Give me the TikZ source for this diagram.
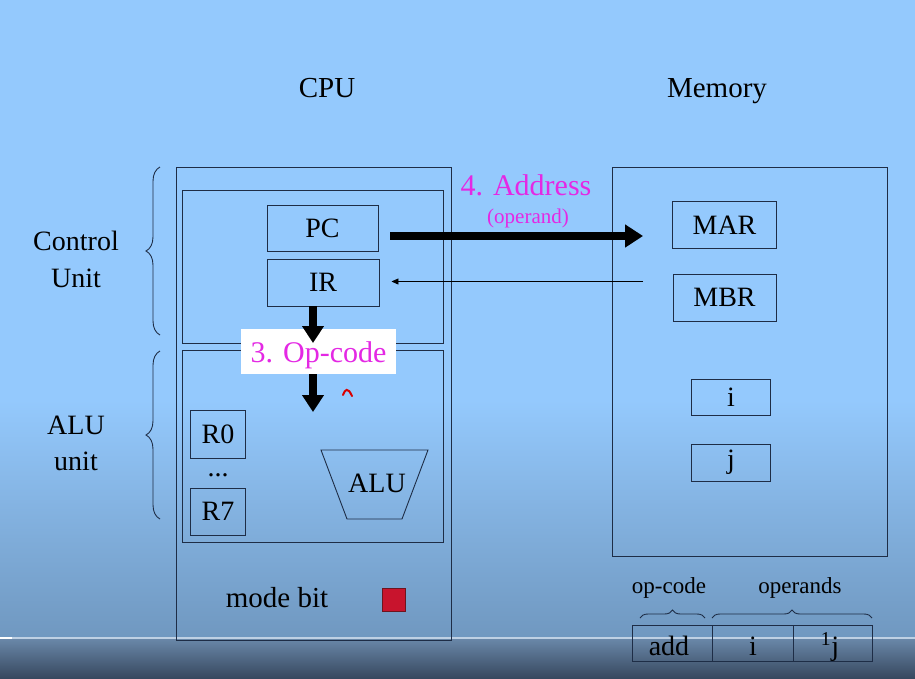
\documentclass[tikz,border=0pt]{standalone}
\usepackage{fontspec}
\setmainfont{Liberation Serif}
\usetikzlibrary{arrows.meta,decorations.pathreplacing}
\definecolor{bgtop}{RGB}{148,201,253}
\definecolor{bgmid}{RGB}{112,152,192}
\definecolor{barA}{RGB}{105,135,168}
\definecolor{barB}{RGB}{55,72,95}
\definecolor{barline}{RGB}{190,208,228}
\definecolor{edge}{RGB}{30,45,70}
\definecolor{mag}{RGB}{228,40,228}
\definecolor{modered}{RGB}{200,20,45}
\begin{document}
\begin{tikzpicture}[x=1pt,y=-1pt,
  box/.style={draw=edge,line width=0.9pt,inner sep=0pt,anchor=center},
  reg/.style={box,font=\fontsize{28}{30}\selectfont},
  frame/.style={draw=edge,line width=0.9pt},
  lbl/.style={font=\fontsize{29}{31}\selectfont,inner sep=0pt,anchor=base},
  side/.style={font=\fontsize{28}{30}\selectfont,inner sep=0pt,anchor=base},
  small/.style={font=\fontsize{23}{25}\selectfont,inner sep=0pt,anchor=base},
  bigarrow/.style={line width=7.5pt,-{Triangle[length=18pt,width=22pt]}},
  thinarrow/.style={line width=0.9pt,-{Triangle[length=7pt,width=6pt]}},
  bracestyle/.style={draw=edge,line width=0.9pt,decorate}
]
% background
\useasboundingbox (0,0) rectangle (915,678);
\fill[bgtop] (0,0) rectangle (915,400);
\shade[top color=bgtop,bottom color=bgmid] (0,400) rectangle (915,637);
\fill[barline] (0,637) rectangle (915,639);
\fill[white] (0,637) rectangle (12,639);
\shade[top color=barA,bottom color=barB] (0,639) rectangle (915,678);

% titles
\node[lbl] (cpu) at (327,97) {CPU};
\node[lbl] (mem) at (717,97) {Memory};

% CPU frames
\node[box,minimum width=275pt,minimum height=473pt] (cpubox) at (313.5,403.5) {};
\node[box,minimum width=261pt,minimum height=153pt] (cu) at (312.5,266.5) {};
\node[box,minimum width=261pt,minimum height=192pt] (au) at (312.5,446) {};

% registers
\node[reg,minimum width=111pt,minimum height=46pt] (pc) at (322.5,228.5) {PC};
\node[reg,minimum width=112pt,minimum height=47pt] (ir) at (323,282.5) {IR};
\node[reg,minimum width=55pt,minimum height=48pt] (r0) at (218,434) {R0};
\node[side] (dots) at (218,476) {...};
\node[reg,minimum width=55pt,minimum height=47pt] (r7) at (218,511.5) {R7};

% ALU trapezoid
\draw[frame] (321,450) -- (428,450) -- (402,519) -- (347,519) -- cycle;
\node[side] (alu) at (377,492) {ALU};

% mode bit
\node[lbl] (mode) at (277,607) {mode bit};
\node[draw={rgb,255:red,110;green,20;blue,30},fill=modered,line width=0.8pt,minimum size=23pt,inner sep=0pt] (modebit) at (394,600) {};

% side labels and braces
\node[side] (cul1) at (76,250) {Control};
\node[side] (cul2) at (76,287) {Unit};
\node[side] (aul1) at (76,434) {ALU};
\node[side] (aul2) at (76,470) {unit};
\coordinate (cub) at (160,335);
\coordinate (cut) at (160,167);
\coordinate (aub) at (160,519);
\coordinate (aut) at (160,351);
\draw[bracestyle,decoration={brace,amplitude=14pt}] (cub) -- (cut);
\draw[bracestyle,decoration={brace,amplitude=14pt}] (aub) -- (aut);

% Memory
\node[box,minimum width=275pt,minimum height=389pt] (membox) at (749.5,361.5) {};
\node[reg,minimum width=104pt,minimum height=47pt] (mar) at (724.5,225) {MAR};
\node[reg,minimum width=103pt,minimum height=47pt] (mbr) at (724.5,297.5) {MBR};
\node[reg,minimum width=79pt,minimum height=36pt] (mi) at (731,397.5) {i};
\node[reg,minimum width=79pt,minimum height=37pt] (mj) at (731,462.5) {j};

% address arrow
\node[lbl,font=\fontsize{30}{32}\selectfont,text=mag] (addr) at (526,195) {4. Address};
\node[lbl,font=\fontsize{21}{23}\selectfont,text=mag] (operand) at (528,223) {(operand)};
\draw[bigarrow,shorten <=12pt,shorten >=29pt] (pc.east |- 0,236) -- (mar.west |- 0,236);
\coordinate (thinstart) at (643,281.5);
\draw[thinarrow,shorten >=12pt] (thinstart) -- (ir.east |- thinstart);

% op-code
\node[fill=white,minimum width=155pt,minimum height=45pt,inner sep=0pt] (op) at (318.5,351.5) {};
\node[lbl,font=\fontsize{30}{32}\selectfont,text=mag] (optext) at (318.5,362) {3. Op-code};
\coordinate (a1s) at (313,306);
\coordinate (a1e) at (313,343);
\coordinate (a2s) at (313,374);
\coordinate (a2e) at (313,412);
\draw[line width=7.5pt,-{Triangle[length=17pt,width=21pt]}] (a1s) -- (a1e);
\draw[line width=7.5pt,-{Triangle[length=17pt,width=21pt]}] (a2s) -- (a2e);
\draw[red!85!black,line width=2pt,line cap=round] (343,395) .. controls (345,389) and (348,387) .. (352,396);

% instruction format
\node[reg,minimum width=80pt,minimum height=36pt] (fadd) at (672,643) {};
\node[side] (faddt) at (669,655) {add};
\node[reg,minimum width=81pt,minimum height=36pt] (fi) at (752.5,643) {};
\node[side] (fit) at (753,655) {i};
\node[reg,minimum width=79pt,minimum height=36pt] (fj) at (832.5,643) {};
\node[side] (fjt) at (830,655) {\textsuperscript{1}j};
\node[small] (opc) at (669,593) {op-code};
\node[small] (opr) at (800,593) {operands};
\coordinate (b1l) at (640,618);
\coordinate (b1r) at (705,618);
\coordinate (b2l) at (712,618);
\coordinate (b2r) at (872,618);
\draw[bracestyle,decoration={brace,amplitude=8pt}] (b1l) -- (b1r);
\draw[bracestyle,decoration={brace,amplitude=8pt}] (b2l) -- (b2r);
\end{tikzpicture}
\end{document}
